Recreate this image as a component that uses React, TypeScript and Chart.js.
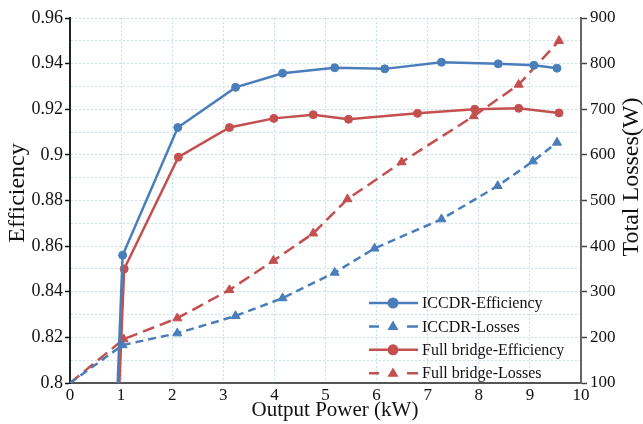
import React, { useEffect, useRef } from "react";
import { Chart, registerables } from "chart.js";

Chart.register(...registerables);

const FONT = '"Liberation Serif", "Times New Roman", Times, serif';
const BLUE = "#4a7ebb";
const RED = "#c3504e";
const GRID = "#c3e1ee";

// Tick values
const X_TICKS = [0, 1, 2, 3, 4, 5, 6, 7, 8, 9, 10];
const EFF_TICKS = [0.8, 0.81, 0.82, 0.83, 0.84, 0.85, 0.86, 0.87, 0.88, 0.89, 0.9, 0.91, 0.92, 0.93, 0.94, 0.95, 0.96];
const LOSS_TICKS = [100, 200, 300, 400, 500, 600, 700, 800, 900];

// Series (x in kW)
const ICCDR_EFF_X = [0.76, 1.03, 2.11, 3.24, 4.16, 5.18, 6.16, 7.27, 8.38, 9.08, 9.53];
const ICCDR_EFF_Y = [0.7, 0.856, 0.912, 0.9296, 0.9358, 0.9382, 0.9377, 0.9406, 0.9399, 0.9393, 0.938];

const FB_EFF_X = [0.78, 1.06, 2.12, 3.12, 3.99, 4.76, 5.45, 6.8, 7.92, 8.78, 9.57];
const FB_EFF_Y = [0.7, 0.85, 0.899, 0.912, 0.916, 0.9176, 0.9156, 0.9182, 0.92, 0.9204, 0.9184];

const ICCDR_LOSS_X = [0, 1.03, 2.1, 3.24, 4.16, 5.18, 5.96, 7.27, 8.37, 9.06, 9.53];
const ICCDR_LOSS_Y = [100, 183, 209, 247, 286, 342, 395, 459, 532, 586, 627];

const FB_LOSS_X = [0, 1.05, 2.1, 3.12, 3.98, 4.76, 5.43, 6.49, 7.9, 8.78, 9.57];
const FB_LOSS_Y = [100, 196, 242, 304, 368, 428, 503, 584, 685, 754, 850];

const LEGEND = [
  { label: "ICCDR-Efficiency", color: BLUE, dashed: false },
  { label: "ICCDR-Losses", color: BLUE, dashed: true },
  { label: "Full bridge-Efficiency", color: RED, dashed: false },
  { label: "Full bridge-Losses", color: RED, dashed: true },
];

const pts = (xs: number[], ys: number[]) => xs.map((x, i) => ({ x, y: ys[i] }));

const overlayPlugin = {
  id: "overlay",
  afterDraw(chart: any) {
    const { ctx, chartArea } = chart;
    ctx.save();
    // legend
    const x0 = chartArea.right - 212;
    const y0 = chartArea.bottom - 80;
    LEGEND.forEach((it, i) => {
      const y = y0 + i * 23.4;
      ctx.strokeStyle = it.color;
      ctx.fillStyle = it.color;
      ctx.lineWidth = 2.5;
      ctx.setLineDash([]);
      ctx.beginPath();
      if (it.dashed) {
        ctx.moveTo(x0, y);
        ctx.lineTo(x0 + 10, y);
        ctx.moveTo(x0 + 38, y);
        ctx.lineTo(x0 + 49, y);
      } else {
        ctx.moveTo(x0, y);
        ctx.lineTo(x0 + 49, y);
      }
      ctx.stroke();
      ctx.beginPath();
      if (it.dashed) {
        const r = 5.8;
        ctx.moveTo(x0 + 24, y - r);
        ctx.lineTo(x0 + 24 + r * 0.95, y + r * 0.6);
        ctx.lineTo(x0 + 24 - r * 0.95, y + r * 0.6);
        ctx.closePath();
      } else {
        ctx.arc(x0 + 24, y, 5.5, 0, Math.PI * 2);
      }
      ctx.fill();
      ctx.fillStyle = "#111";
      ctx.font = `16px ${FONT}`;
      ctx.textAlign = "left";
      ctx.textBaseline = "middle";
      ctx.fillText(it.label, x0 + 53, y + 1);
    });
    // axis titles
    ctx.fillStyle = "#111";
    ctx.textAlign = "center";
    ctx.textBaseline = "middle";
    ctx.font = `21px ${FONT}`;
    ctx.fillText("Output Power (kW)", 335, 410);
    ctx.font = `24px ${FONT}`;
    ctx.save();
    ctx.translate(18, 193);
    ctx.rotate(-Math.PI / 2);
    ctx.fillText("Efficiency", 0, 0);
    ctx.restore();
    ctx.save();
    ctx.translate(632, 177);
    ctx.rotate(-Math.PI / 2);
    ctx.fillText("Total Losses(W)", 0, 0);
    ctx.restore();
    ctx.restore();
  },
};

export default function App() {
  const ref = useRef<HTMLCanvasElement | null>(null);
  useEffect(() => {
    if (!ref.current) return;
    const isMajor = (v: number) => Math.round(v * 100) % 2 === 0;
    const chart = new Chart(ref.current, {
      type: "line",
      data: {
        datasets: [
          {
            label: "ICCDR-Efficiency",
            data: pts(ICCDR_EFF_X, ICCDR_EFF_Y),
            yAxisID: "y",
            borderColor: BLUE,
            backgroundColor: BLUE,
            borderWidth: 2.5,
            pointStyle: "circle",
            pointRadius: 4,
            pointBorderWidth: 1,
            tension: 0,
          },
          {
            label: "ICCDR-Losses",
            data: pts(ICCDR_LOSS_X, ICCDR_LOSS_Y),
            yAxisID: "y2",
            borderColor: BLUE,
            backgroundColor: BLUE,
            borderWidth: 2.5,
            borderDash: [8, 5],
            pointStyle: "triangle",
            pointRadius: (c: any) => (c.dataIndex === 0 ? 0 : 5.2),
            pointBorderWidth: 1,
            tension: 0,
          },
          {
            label: "Full bridge-Efficiency",
            data: pts(FB_EFF_X, FB_EFF_Y),
            yAxisID: "y",
            borderColor: RED,
            backgroundColor: RED,
            borderWidth: 2.5,
            pointStyle: "circle",
            pointRadius: 4,
            pointBorderWidth: 1,
            tension: 0,
          },
          {
            label: "Full bridge-Losses",
            data: pts(FB_LOSS_X, FB_LOSS_Y),
            yAxisID: "y2",
            borderColor: RED,
            backgroundColor: RED,
            borderWidth: 2.5,
            borderDash: [12, 6],
            pointStyle: "triangle",
            pointRadius: (c: any) => (c.dataIndex === 0 ? 0 : 5.2),
            pointBorderWidth: 1,
            tension: 0,
          },
        ],
      },
      options: {
        responsive: false,
        animation: false,
        layout: { padding: { top: 18, left: 0, right: 0, bottom: 0 } },
        plugins: { legend: { display: false }, tooltip: { enabled: false }, title: { display: false } },
        scales: {
          x: {
            type: "linear",
            min: 0,
            max: 10,
            afterBuildTicks: (s: any) => {
              s.ticks = X_TICKS.map((v) => ({ value: v }));
            },
            afterFit: (s: any) => {
              s.height = 41;
            },
            ticks: { font: { family: FONT, size: 17 }, color: "#111", padding: 2, maxRotation: 0, autoSkip: false },
            grid: { color: GRID, lineWidth: 1, drawTicks: false, borderDash: [2, 2] } as any,
            border: { color: "#555", width: 2, dash: [2, 2] },
          },
          y: {
            type: "linear",
            position: "left",
            min: 0.8,
            max: 0.96,
            afterBuildTicks: (s: any) => {
              s.ticks = EFF_TICKS.map((v) => ({ value: v }));
            },
            afterFit: (s: any) => {
              s.width = 70;
            },
            ticks: {
              font: { family: FONT, size: 18 },
              color: "#111",
              padding: 2,
              autoSkip: false,
              callback: (v: any) => (isMajor(Number(v)) ? String(Number(Number(v).toFixed(2))) : ""),
            },
            grid: {
              color: GRID,
              lineWidth: 1,
              tickLength: 5,
              tickWidth: 1.5,
              tickColor: (c: any) => (c.tick && isMajor(c.tick.value) ? "#111" : "rgba(0,0,0,0)"),
              borderDash: [2, 2],
            } as any,
            border: { color: "#222", width: 2, dash: [2, 2] },
          },
          y2: {
            type: "linear",
            position: "right",
            min: 100,
            max: 900,
            afterBuildTicks: (s: any) => {
              s.ticks = LOSS_TICKS.map((v) => ({ value: v }));
            },
            afterFit: (s: any) => {
              s.width = 62;
            },
            ticks: { font: { family: FONT, size: 17 }, color: "#111", padding: 3, autoSkip: false },
            grid: { drawOnChartArea: false, tickLength: 6, tickWidth: 1.5, tickColor: "#444" },
            border: { color: "#666", width: 2 },
          },
        },
      } as any,
      plugins: [overlayPlugin],
    });
    return () => chart.destroy();
  }, []);
  return (
    <div style={{ position: "absolute", left: 0, top: 0, width: 643, height: 424, background: "#fff" }}>
      <canvas ref={ref} width={643} height={424} style={{ width: 643, height: 424 }} />
    </div>
  );
}
